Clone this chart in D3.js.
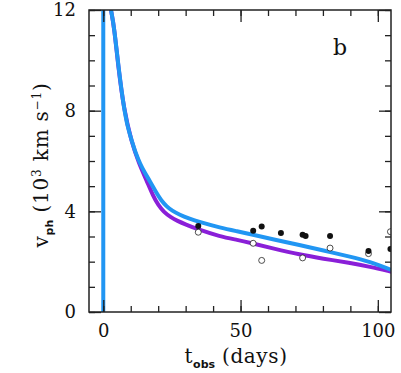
<!DOCTYPE html>
<html>
<head>
<meta charset="utf-8">
<script src="https://cdn.jsdelivr.net/npm/d3@7"></script>
<style>
  body { margin: 0; background: #fff; }
  text { font-family: "DejaVu Serif", serif; fill: #111; }
  .sub { font-family: "DejaVu Sans", sans-serif; font-weight: bold; letter-spacing: 0; }
</style>
</head>
<body>
<div id="canvas"></div>
<script>
// model curves (t in days, v in 10^3 km/s)
const blueT = [2.8, 4, 5.5, 7.5, 9, 10.3, 12, 13.4, 15, 17, 19.4, 21, 23.1, 25, 27.9, 31, 35.2, 42.5, 49.1, 53.4, 62, 71.6, 80, 89.8, 97, 105];
const blueV = [12, 11.3, 9.75, 8.1, 7.3, 6.83, 6.25, 5.9, 5.55, 5.2, 4.72, 4.45, 4.19, 4.03, 3.86, 3.72, 3.57, 3.35, 3.2, 3.1, 2.88, 2.66, 2.45, 2.2, 2.0, 1.67];
const purpleT = [2.8, 4, 5.5, 7.5, 10.3, 13, 15.8, 18.2, 20, 22, 24.5, 27, 30, 34, 42.5, 49.1, 53.4, 62, 71.6, 80, 89.8, 97, 105];
const purpleV = [12, 11.3, 9.7, 8.05, 6.75, 5.9, 5.22, 4.6, 4.25, 3.98, 3.77, 3.62, 3.48, 3.3, 3.0, 2.86, 2.75, 2.52, 2.28, 2.12, 1.95, 1.8, 1.6];
const verticalT = [0, 0];
const verticalV = [0, 12];

// observations
const filledT = [34.6, 54.6, 57.7, 64.7, 72.6, 73.7, 82.6, 96.6, 104.6];
const filledV = [3.42, 3.23, 3.40, 3.14, 3.07, 3.02, 3.02, 2.42, 2.50];
const openT = [34.6, 54.6, 57.7, 72.6, 82.6, 96.6, 104.6];
const openV = [3.17, 2.73, 2.05, 2.15, 2.54, 2.32, 3.19];

const xMajor = [0, 50, 100];
const xMinor = d3.range(0, 105, 10);
const yMajor = [0, 4, 8, 12];
const yMinor = d3.range(0, 13, 1);

const W = 401, H = 373;
const M = {t: 10, r: 10, b: 61, l: 89};
const w = W - M.l - M.r, h = H - M.t - M.b;

const x = d3.scaleLinear().domain([-5.2, 104.8]).range([0, w]);
const y = d3.scaleLinear().domain([0, 12]).range([h, 0]);

const svg = d3.select('#canvas').append('svg')
  .attr('width', W).attr('height', H);

const g = svg.append('g').attr('transform', 'translate(' + M.l + ',' + M.t + ')');

g.append('clipPath').attr('id', 'clip')
  .append('rect').attr('width', w).attr('height', h);

const plot = g.append('g').attr('clip-path', 'url(#clip)');

const line = d3.line()
  .x(d => x(d[0])).y(d => y(d[1]))
  .curve(d3.curveBasis);

const zip = (a, b) => a.map((v, i) => [v, b[i]]);

plot.append('path').datum(zip(purpleT, purpleV))
  .attr('d', line).attr('fill', 'none')
  .attr('stroke', '#8a1fd8').attr('stroke-width', 4);

plot.append('path').datum(zip(blueT, blueV))
  .attr('d', line).attr('fill', 'none')
  .attr('stroke', '#2196f3').attr('stroke-width', 4);

plot.append('path').datum(zip(verticalT, verticalV))
  .attr('d', d3.line().x(d => x(d[0])).y(d => y(d[1])))
  .attr('stroke', '#2196f3').attr('stroke-width', 4);

plot.selectAll('.open').data(zip(openT, openV)).enter()
  .append('circle').attr('class', 'open')
  .attr('cx', d => x(d[0])).attr('cy', d => y(d[1])).attr('r', 3)
  .attr('fill', '#fff').attr('stroke', '#222').attr('stroke-width', 0.8);

plot.selectAll('.filled').data(zip(filledT, filledV)).enter()
  .append('circle').attr('class', 'filled')
  .attr('cx', d => x(d[0])).attr('cy', d => y(d[1])).attr('r', 3)
  .attr('fill', '#111');

// axes: ticks point inward, majors longer
function axisPair(axisFn, scale, minor, major, tr, labels) {
  const gm = g.append('g').attr('transform', tr)
    .call(axisFn(scale).tickValues(minor).tickSize(-6).tickFormat(''));
  const gM = g.append('g').attr('transform', tr)
    .call(axisFn(scale).tickValues(major).tickSize(-12).tickPadding(labels ? 18 : 0)
      .tickFormat(labels ? d3.format('d') : ''));
  [gm, gM].forEach(a => {
    a.select('.domain').remove();
    a.selectAll('line').attr('stroke', '#222').attr('stroke-width', 1.3);
  });
  gM.selectAll('text').style('font-family', '"DejaVu Serif", serif')
    .style('font-size', '18px').attr('fill', '#111');
  return gM;
}

const bx = axisPair(d3.axisBottom, x, xMinor, xMajor, 'translate(0,' + h + ')', true);
bx.selectAll('text').attr('dy', '0.71em').attr('y', 12);
axisPair(d3.axisTop, x, xMinor, xMajor, 'translate(0,0)', false);
const ly = axisPair(d3.axisLeft, y, yMinor, yMajor, 'translate(0,0)', true);
ly.selectAll('text').attr('x', -13);
axisPair(d3.axisRight, y, yMinor, yMajor, 'translate(' + w + ',0)', false);

g.append('rect').attr('width', w).attr('height', h)
  .attr('fill', 'none').attr('stroke', '#222').attr('stroke-width', 1.5);

// labels
const xl = svg.append('text').attr('x', 236).attr('y', 363)
  .attr('text-anchor', 'middle').style('font-size', '20px').style('letter-spacing', '0.6px');
xl.append('tspan').text('t');
xl.append('tspan').attr('class', 'sub').attr('dy', 5).style('font-size', '11px').text('obs');
xl.append('tspan').attr('dy', -5).text(' (days)');

const yl = svg.append('text')
  .attr('transform', 'translate(48,165) rotate(-90)')
  .attr('text-anchor', 'middle').style('font-size', '20px').style('letter-spacing', '0.8px');
yl.append('tspan').text('v');
yl.append('tspan').attr('class', 'sub').attr('dy', 5).style('font-size', '11px').text('ph');
yl.append('tspan').attr('dy', -5).text('  (10');
yl.append('tspan').attr('dy', -7).style('font-size', '12px').text('3');
yl.append('tspan').attr('dy', 7).text(' km s');
yl.append('tspan').attr('dy', -7).style('font-size', '12px').text('\u22121');
yl.append('tspan').attr('dy', 7).text(')');

svg.append('text').attr('x', 340).attr('y', 55)
  .attr('text-anchor', 'middle').style('font-size', '22px').text('b');
</script>
</body>
</html>
